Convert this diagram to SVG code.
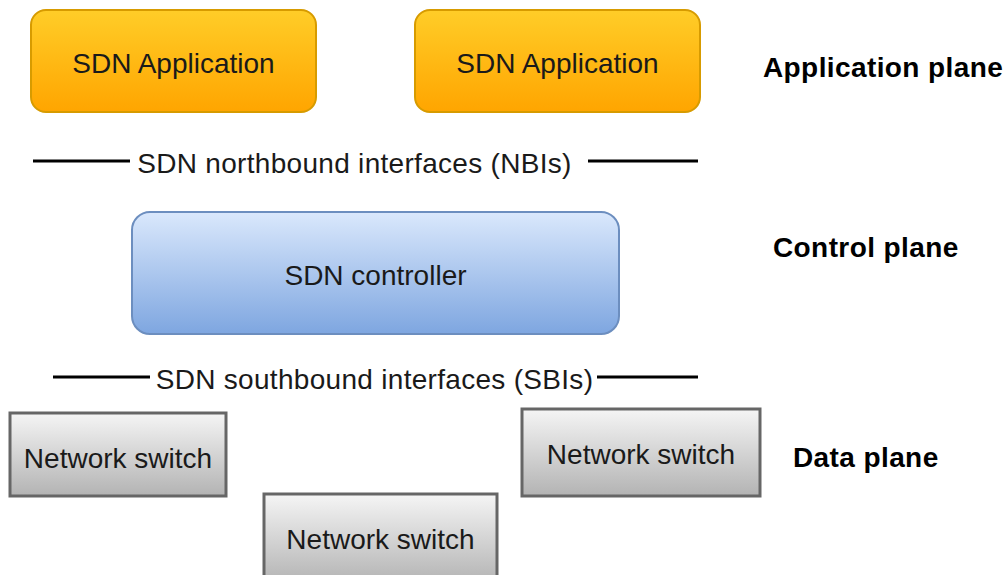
<svg xmlns="http://www.w3.org/2000/svg" width="1006" height="575" viewBox="0 0 1006 575">
<defs>
<linearGradient id="gOrange" x1="0" y1="0" x2="0" y2="1"><stop offset="0" stop-color="#FFCD28"/><stop offset="1" stop-color="#FFA500"/></linearGradient>
<linearGradient id="gBlue" x1="0" y1="0" x2="0" y2="1"><stop offset="0" stop-color="#DAE8FC"/><stop offset="1" stop-color="#7EA6E0"/></linearGradient>
<linearGradient id="gGray" x1="0" y1="0" x2="0" y2="1"><stop offset="0" stop-color="#F5F5F5"/><stop offset="1" stop-color="#B3B3B3"/></linearGradient>
<style>
.app{fill:url(#gOrange);stroke:#D79B00;stroke-width:2}
.ctrl{fill:url(#gBlue);stroke:#6C8EBF;stroke-width:2}
.sw{fill:url(#gGray);stroke:#666666;stroke-width:3}
.t{font-family:"Liberation Sans",Arial,sans-serif;font-size:28px;fill:#1a1a1a;text-anchor:middle}
.if{letter-spacing:0.3px}
.lbl{font-family:"Liberation Sans",Arial,sans-serif;font-size:28px;font-weight:bold;fill:#000;letter-spacing:0.4px}
.ln{stroke:#000;stroke-width:3}
</style>
</defs>
<g id="app1"><rect class="app" x="31" y="10" width="285" height="102" rx="15"/><text class="t" x="173.5" y="73">SDN Application</text></g>
<g id="app2"><rect class="app" x="415" y="10" width="285" height="102" rx="15"/><text class="t" x="557.5" y="73">SDN Application</text></g>
<g id="controller"><rect class="ctrl" x="132" y="212" width="487" height="122" rx="18"/><text class="t" x="375.5" y="285">SDN controller</text></g>
<g id="switch1"><rect class="sw" x="10" y="413" width="216" height="83"/><text class="t" x="118" y="468">Network switch</text></g>
<g id="switch2"><rect class="sw" x="264" y="494" width="233" height="90"/><text class="t" x="380.5" y="549">Network switch</text></g>
<g id="switch3"><rect class="sw" x="522" y="409" width="238" height="87"/><text class="t" x="641" y="464">Network switch</text></g>
<g id="connectors">
<line class="ln" x1="33" y1="161" x2="130" y2="161"/>
<line class="ln" x1="588" y1="161" x2="698" y2="161"/>
<line class="ln" x1="53" y1="377" x2="150" y2="377"/>
<line class="ln" x1="597" y1="377" x2="698" y2="377"/>
</g>
<g id="interfaces">
<text class="t if" x="354.5" y="173">SDN northbound interfaces (NBIs)</text>
<text class="t if" x="374.5" y="389">SDN southbound interfaces (SBIs)</text>
</g>
<g id="planes">
<text class="lbl" x="763" y="77">Application plane</text>
<text class="lbl" x="773" y="257">Control plane</text>
<text class="lbl" x="793" y="467">Data plane</text>
</g>
</svg>
